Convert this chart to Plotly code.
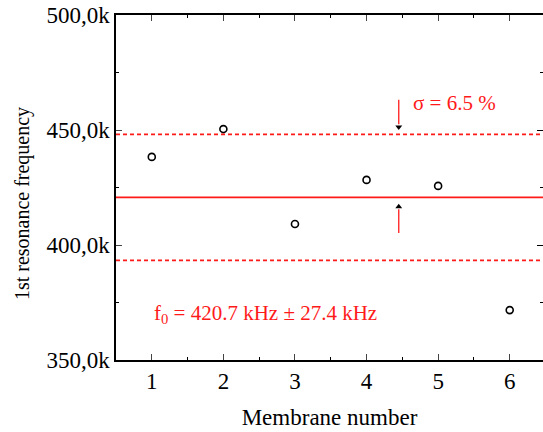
import plotly.graph_objects as go

membrane = [1, 2, 3, 4, 5, 6]
freq_khz = [438.3, 450.4, 409.1, 428.3, 425.7, 371.7]
mean_khz = 420.7
std_khz = 27.4
y_tickvals = [350, 400, 450, 500]
y_ticktext = ["350,0k", "400,0k", "450,0k", "500,0k"]
x_tickvals = [1, 2, 3, 4, 5, 6]

FONT = "Liberation Serif"
RED = "#ff1a1a"

fig = go.Figure()
fig.add_trace(go.Scatter(
    x=membrane, y=freq_khz, mode="markers",
    marker=dict(symbol="circle-open", size=7, color="black", line=dict(width=1.6)),
    showlegend=False, cliponaxis=False,
))
# dummy trace for right-side ticks
fig.add_trace(go.Scatter(x=[None], y=[None], yaxis="y2", showlegend=False))

# mean and +/- sigma lines
fig.add_shape(type="line", xref="paper", x0=0, x1=1, y0=mean_khz, y1=mean_khz,
              line=dict(color=RED, width=1.6))
for v in (mean_khz + std_khz, mean_khz - std_khz):
    fig.add_shape(type="line", xref="paper", x0=0, x1=1, y0=v, y1=v,
                  line=dict(color=RED, width=1.6, dash="4px,3px"))

ax_x = 4.45
# arrow shafts (red)
fig.add_shape(type="line", x0=ax_x, x1=ax_x, y0=463.2, y1=452.5, line=dict(color=RED, width=1.3))
fig.add_shape(type="line", x0=ax_x, x1=ax_x, y0=405.2, y1=415.5, line=dict(color=RED, width=1.3))
# arrow heads (black)
fig.add_trace(go.Scatter(
    x=[ax_x, ax_x], y=[451.3, 416.6], mode="markers",
    marker=dict(symbol=["triangle-down", "triangle-up"], size=6, color="black"),
    showlegend=False, hoverinfo="skip",
))

fig.add_annotation(x=4.62, y=461.7, text="σ = 6.5 %", showarrow=False, xanchor="left", yanchor="middle",
                   font=dict(family=FONT, size=21, color=RED))
fig.add_annotation(x=1.0, y=370.2,
                   text=f"f<sub>0</sub> = {mean_khz} kHz ± {std_khz} kHz",
                   showarrow=False, xanchor="left", yanchor="middle",
                   font=dict(family=FONT, size=21, color=RED))
# y axis title
fig.add_annotation(xref="paper", x=-0.22, xanchor="center", y=417.8, yanchor="middle",
                   text="1st resonance frequency", textangle=-90, showarrow=False,
                   font=dict(family=FONT, size=20, color="black"))

fig.update_layout(
    width=543, height=432,
    margin=dict(l=116, r=0, t=15, b=72),
    plot_bgcolor="white", paper_bgcolor="white",
    font=dict(family=FONT, size=23, color="black"),
    xaxis=dict(
        range=[0.5, 6.465], tickvals=x_tickvals, ticks="inside", ticklen=6, tickwidth=1.2,
        showline=True, linecolor="black", linewidth=1.5, mirror="ticks",
        showgrid=False, zeroline=False,
        minor=dict(dtick=0.5, tick0=0.5, ticks="inside", ticklen=3, tickcolor="black", showgrid=False),
        title=dict(text="Membrane number", font=dict(size=23), standoff=16),
        tickfont=dict(size=23),
    ),
    yaxis=dict(
        range=[350, 500], tickvals=y_tickvals, ticktext=y_ticktext,
        ticks="inside", ticklen=6, tickwidth=1.2,
        showline=True, linecolor="black", linewidth=1.5,
        showgrid=False, zeroline=False,
        minor=dict(dtick=25, tick0=350, ticks="inside", ticklen=3, tickcolor="black", showgrid=False),
        tickfont=dict(size=23),
    ),
    yaxis2=dict(
        overlaying="y", side="right", range=[350, 500], tickvals=y_tickvals,
        showticklabels=False, ticks="inside", ticklen=6, tickwidth=1.2, tickcolor="black",
        showline=False, showgrid=False, zeroline=False,
        minor=dict(dtick=25, tick0=350, ticks="inside", ticklen=3, tickcolor="black", showgrid=False),
    ),
)

fig.write_html("out.html")
